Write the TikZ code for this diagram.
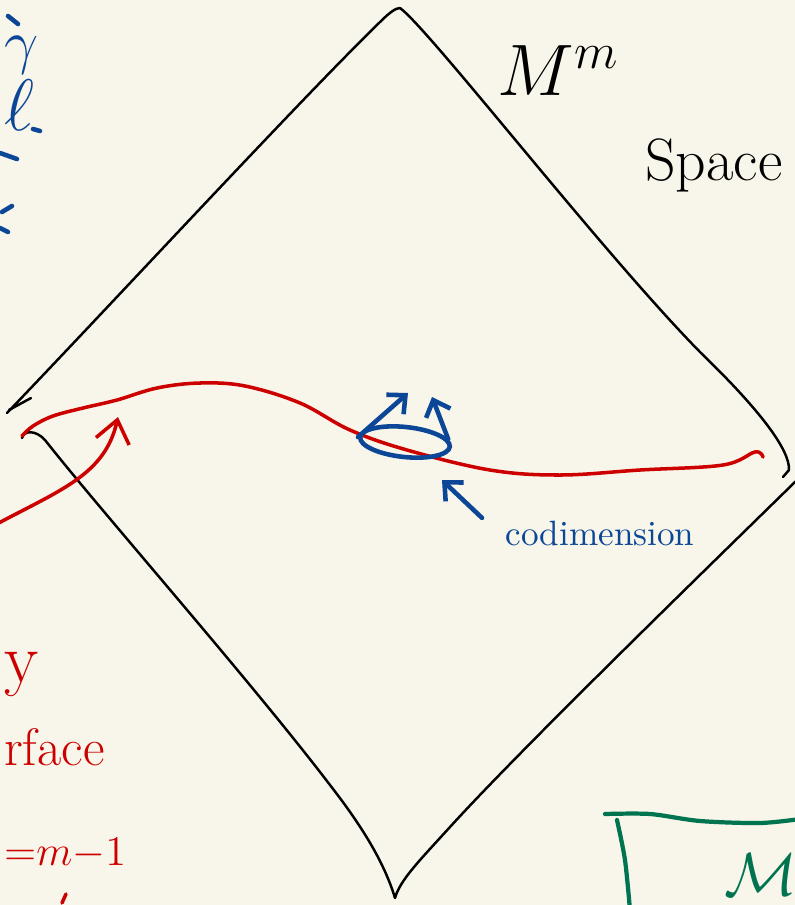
\documentclass[tikz,border=0pt]{standalone}
\usepackage{amsmath,amssymb,xcolor}
\definecolor{inkred}{RGB}{205,0,0}
\definecolor{inkblue}{RGB}{12,70,150}
\definecolor{inkgreen}{RGB}{0,115,80}
\definecolor{paper}{RGB}{248,246,234}
\usetikzlibrary{arrows.meta,shapes.geometric}

\begin{document}
\begin{tikzpicture}[x=0.01cm,y=-0.01cm,
  chalk/.style={line width=0.7pt,line cap=round,line join=round},
  redink/.style={draw=inkred,line width=1pt,line cap=round,line join=round},
  blueink/.style={draw=inkblue,line width=1.3pt,line cap=round,line join=round},
  greenink/.style={draw=inkgreen,line width=1.2pt,line cap=round},
  barb/.style={-{Straight Barb[length=2.2mm,width=3.4mm]}},
  smallbarb/.style={-{Straight Barb[length=1.4mm,width=2.6mm]}}]
  %% Paper
  \fill[paper] (0,0) rectangle (795,905);
  \useasboundingbox (0,0) rectangle (795,905);

  %% Diamond (the manifold)
  \draw[chalk] (7,413) .. controls (120,295) and (300,100) .. (380,22)
        .. controls (390,12) and (396,8) .. (400,8);
  \draw[chalk] (9,410) -- (31,398);
  \draw[chalk] (400,8) .. controls (430,30) and (600,250) .. (700,352)
        .. controls (760,410) and (790,450) .. (789,470) -- (783,477);
  \draw[chalk] (22,438) .. controls (24,430) and (36,430) .. (45,440)
        .. controls (100,510) and (250,680) .. (330,785)
        .. controls (365,830) and (385,865) .. (395,898);
  \draw[chalk] (796,481) .. controls (700,575) and (520,750) .. (450,827)
        .. controls (420,860) and (400,880) .. (395,898);
  \node[anchor=base west,font=\fontsize{21}{25}\selectfont] (mlabel)
        at (485,95) {$M^m$};
  \node[anchor=base west,inner sep=1pt,font=\fontsize{17}{21}\selectfont] (spacelabel)
        at (641,180) {Space};

  %% Hypersurface
  \draw[redink] plot[smooth,tension=0.6] coordinates
        {(22,436) (33,426) (53,416) (83,408) (117,400) (157,388) (200,383)
         (245,386) (300,403) (350,430) (407,450) (490,470)
         (560,475) (640,470) (723,465) (755,452) (763,457)};
  \coordinate (hypfrom) at (-5,525);
  \coordinate (hypto) at (118,417);
  \draw[redink,barb] (hypfrom) .. controls (60,490) and (105,475) .. (hypto);
  \node[anchor=base west,inner sep=1pt,text=inkred,font=\fontsize{20}{24}\selectfont]
        (ytail) at (0,682) {y};
  \node[anchor=base west,inner sep=1pt,text=inkred,font=\fontsize{15}{18}\selectfont]
        (surflabel) at (0,765) {rface};
  \node[anchor=base west,inner sep=1pt,text=inkred,font=\fontsize{13}{16}\selectfont]
        (dimlabel) at (0,865) {$\mathord{=}m\mathord{-}1$};
  \draw[redink] (62,903) -- (66,894);

  %% Normal directions
  \node[ellipse,draw=inkblue,line width=1.3pt,inner sep=0pt,
        minimum width=0.9cm,minimum height=0.3cm,rotate=-6] (disc) at (405,442) {};
  \coordinate (nuone) at (408,393);
  \coordinate (nutwo) at (432,397);
  \draw[blueink,smallbarb] (disc.west) -- (nuone);
  \draw[blueink,smallbarb] (disc.10) -- (nutwo);
  \node[anchor=base west,text=inkblue,inner sep=0pt,
        font=\fontsize{10}{12}\selectfont] (codim) at (505,545) {codimension};
  \coordinate (codimtip) at (442,480);
  \draw[blueink,smallbarb] ([shift={(-23,-2)}]codim.north west) -- (codimtip);

  %% Margin notes
  \draw[blueink] (8,16) -- (18,24);
  \node[anchor=base west,inner sep=1pt,text=inkblue,font=\fontsize{18}{22}\selectfont]
        (gamlabel) at (0,62) {$\gamma$};
  \node[anchor=base west,inner sep=1pt,text=inkblue,font=\fontsize{20}{24}\selectfont]
        (elllabel) at (0,130) {$\ell$};
  \draw[blueink] (33,129) -- (40,131);
  \draw[blueink] (0,153) -- (17,159);
  \draw[blueink] (12,206) -- (2,212);
  \draw[blueink] (0,228) -- (8,232);

  %% Box
  \draw[greenink] plot[smooth,tension=0.5] coordinates
        {(605,814) (650,814) (700,821) (760,823) (800,819)};
  \draw[greenink] plot[smooth,tension=0.5] coordinates
        {(617,820) (625,860) (630,910)};
  \node[anchor=base west,inner sep=1pt,text=inkgreen,font=\fontsize{17}{20}\selectfont]
        (boxlabel) at (720,895) {$\mathcal{M}$};
\end{tikzpicture}
\end{document}
